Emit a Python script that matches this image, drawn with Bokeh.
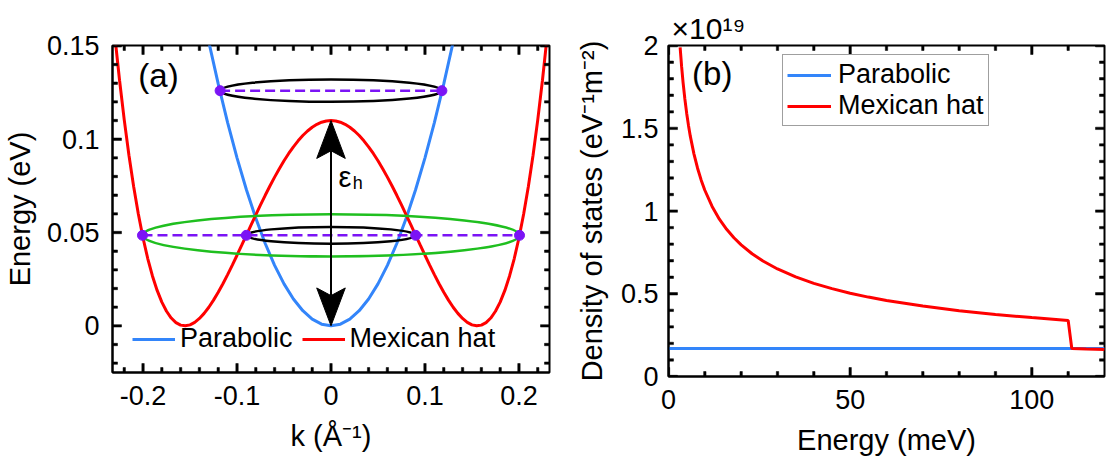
from bokeh.plotting import figure
from bokeh.models import (Range1d, LinearAxis, FixedTicker, CustomJSTickFormatter,
                          Legend, LegendItem, Label)
from bokeh.layouts import row
from bokeh.embed import file_html
from bokeh.resources import INLINE

FONT = "Liberation Sans"
BLUE = "#3385fa"
RED = "#ff0000"
GREEN = "#1fbf1f"
PURPLE = "#7b14f5"

# ---------------- data: panel (a) ----------------
k_parabolic = [-0.13, -0.12, -0.11, -0.10, -0.09, -0.08, -0.07, -0.06, -0.05, -0.04, -0.03, -0.02, -0.01,
               0.00, 0.01, 0.02, 0.03, 0.04, 0.05, 0.06, 0.07, 0.08, 0.09, 0.10, 0.11, 0.12, 0.13]
E_parabolic = [0.1521, 0.1296, 0.1089, 0.0900, 0.0729, 0.0576, 0.0441, 0.0324, 0.0225, 0.0144, 0.0081, 0.0036, 0.0009,
               0.0000, 0.0009, 0.0036, 0.0081, 0.0144, 0.0225, 0.0324, 0.0441, 0.0576, 0.0729, 0.0900, 0.1089, 0.1296, 0.1521]

k_mexican = [-0.235, -0.230, -0.225, -0.220, -0.215, -0.210, -0.205, -0.200, -0.195, -0.190,
             -0.185, -0.180, -0.175, -0.170, -0.165, -0.160, -0.155, -0.150, -0.145, -0.140,
             -0.135, -0.130, -0.125, -0.120, -0.115, -0.110, -0.105, -0.100, -0.095, -0.090,
             -0.085, -0.080, -0.075, -0.070, -0.065, -0.060, -0.055, -0.050, -0.045, -0.040,
             -0.035, -0.030, -0.025, -0.020, -0.015, -0.010, -0.005, 0.000, 0.005, 0.010,
             0.015, 0.020, 0.025, 0.030, 0.035, 0.040, 0.045, 0.050, 0.055, 0.060,
             0.065, 0.070, 0.075, 0.080, 0.085, 0.090, 0.095, 0.100, 0.105, 0.110,
             0.115, 0.120, 0.125, 0.130, 0.135, 0.140, 0.145, 0.150, 0.155, 0.160,
             0.165, 0.170, 0.175, 0.180, 0.185, 0.190, 0.195, 0.200, 0.205, 0.210,
             0.215, 0.220, 0.225, 0.230, 0.235]
E_mexican = [0.18132, 0.15518, 0.13157, 0.11036, 0.09143, 0.07465, 0.05991, 0.04708, 0.03606, 0.02673,
             0.01898, 0.01271, 0.00781, 0.00419, 0.00174, 0.00038, 0.00000, 0.00053, 0.00187, 0.00395,
             0.00667, 0.00997, 0.01377, 0.01800, 0.02258, 0.02746, 0.03256, 0.03783, 0.04321, 0.04865,
             0.05409, 0.05948, 0.06478, 0.06994, 0.07492, 0.07968, 0.08420, 0.08843, 0.09235, 0.09592,
             0.09914, 0.10196, 0.10439, 0.10639, 0.10796, 0.10909, 0.10977, 0.11000, 0.10977, 0.10909,
             0.10796, 0.10639, 0.10439, 0.10196, 0.09914, 0.09592, 0.09235, 0.08843, 0.08420, 0.07968,
             0.07492, 0.06994, 0.06478, 0.05948, 0.05409, 0.04865, 0.04321, 0.03783, 0.03256, 0.02746,
             0.02258, 0.01800, 0.01377, 0.00997, 0.00667, 0.00395, 0.00187, 0.00053, 0.00000, 0.00038,
             0.00174, 0.00419, 0.00781, 0.01271, 0.01898, 0.02673, 0.03606, 0.04708, 0.05991, 0.07465,
             0.09143, 0.11036, 0.13157, 0.15518, 0.18132]

eps_h = 0.11                 # hat height (eV)
E_ring_top = 0.126           # energy of upper constant-energy ring
k_ring_top = 0.118           # parabolic k at that energy
E_ring_low = 0.0485          # energy of lower rings
k_ring_outer = 0.2006        # outer Mexican-hat k
k_ring_inner = 0.0901        # inner Mexican-hat k
ring_half_heights = [0.006, 0.0113, 0.0045]   # top black, green, inner black

# ticks, panel (a)
xlim_a = (-0.2325, 0.2325)
ylim_a = (-0.025, 0.15)
x_major_a = [-0.2, -0.1, 0, 0.1, 0.2]
x_minor_a = [-0.22, -0.18, -0.16, -0.14, -0.12, -0.08, -0.06, -0.04, -0.02,
             0.02, 0.04, 0.06, 0.08, 0.12, 0.14, 0.16, 0.18, 0.22]
y_major_a = [0, 0.05, 0.1, 0.15]
y_minor_a = [-0.02, -0.01, 0.01, 0.02, 0.03, 0.04, 0.06, 0.07, 0.08, 0.09, 0.11, 0.12, 0.13, 0.14]

# ---------------- data: panel (b) ----------------
E_dos_mexican = [3.2, 3.6, 4, 4.5, 5, 5.5, 6, 7, 8, 9, 10, 12, 14, 16, 18, 20, 23, 26, 30, 35,
                 40, 45, 50, 55, 60, 70, 80, 90, 100, 110, 111, 115, 120]
dos_mexican = [1.990, 1.876, 1.780, 1.678, 1.592, 1.518, 1.453, 1.346, 1.259, 1.187, 1.126, 1.028,
               0.951, 0.890, 0.839, 0.796, 0.742, 0.698, 0.650, 0.602, 0.563, 0.531, 0.503, 0.480,
               0.460, 0.426, 0.398, 0.375, 0.356, 0.339, 0.169, 0.166, 0.1625]
E_dos_parabolic = [0, 120]
dos_parabolic = [0.17, 0.17]

xlim_b = (0, 120)
ylim_b = (0, 2)
x_major_b = [0, 50, 100]
x_minor_b = [10, 20, 30, 40, 60, 70, 80, 90, 110]
y_major_b = [0, 0.5, 1, 1.5, 2]
y_minor_b = [0.1, 0.2, 0.3, 0.4, 0.6, 0.7, 0.8, 0.9, 1.1, 1.2, 1.3, 1.4, 1.6, 1.7, 1.8, 1.9]

series_labels = ["Parabolic", "Mexican hat"]

FMT = CustomJSTickFormatter(code="""
if (Math.abs(tick) < 1e-9) { return '0'; }
return tick.toFixed(3).replace(/\\.?0+$/, '');
""")

MAJ_LEN = 9
MIN_LEN = 5
TICK_HALF_W = 1.2


def add_axes(p, xmaj, ymaj, xlabel, ylabel, label_standoff_y, label_standoff_x,
             tick_standoff_y, tick_standoff_x):
    bx = LinearAxis(ticker=FixedTicker(ticks=xmaj), formatter=FMT, axis_label=xlabel)
    bx.major_label_standoff = tick_standoff_x
    bx.axis_label_standoff = label_standoff_x
    ly = LinearAxis(ticker=FixedTicker(ticks=ymaj), formatter=FMT, axis_label=ylabel)
    ly.major_label_standoff = tick_standoff_y
    ly.axis_label_standoff = label_standoff_y
    for ax in (bx, ly):
        ax.axis_line_width = 2
        ax.axis_line_color = "black"
        ax.major_tick_in = 0
        ax.major_tick_out = 0
        ax.minor_tick_in = 0
        ax.minor_tick_out = 0
        ax.major_label_text_font = FONT
        ax.major_label_text_font_size = "27px"
        ax.major_label_text_color = "black"
        ax.axis_label_text_font = FONT
        ax.axis_label_text_font_style = "normal"
        ax.axis_label_text_font_size = "29px"
        ax.axis_label_text_color = "black"
    p.add_layout(bx, "below")
    p.add_layout(ly, "left")


def add_inner_ticks(p, xmaj, xmin_, ymaj, ymin_, xr, yr, fw, fh):
    # tick marks pointing into the frame on all four sides, as thin filled bars
    ex = (xr[1] - xr[0]) / fw   # one pixel in data units
    ey = (yr[1] - yr[0]) / fh
    xs, ys = [], []
    for ticks, ln in ((xmaj, MAJ_LEN), (xmin_, MIN_LEN)):
        for t in ticks:
            a, b = t - TICK_HALF_W * ex, t + TICK_HALF_W * ex
            xs.append([a, b, b, a])
            ys.append([yr[0], yr[0], yr[0] + ln * ey, yr[0] + ln * ey])
            xs.append([a, b, b, a])
            ys.append([yr[1], yr[1], yr[1] - ln * ey, yr[1] - ln * ey])
    for ticks, ln in ((ymaj, MAJ_LEN), (ymin_, MIN_LEN)):
        for t in ticks:
            a, b = t - TICK_HALF_W * ey, t + TICK_HALF_W * ey
            xs.append([xr[0], xr[0] + ln * ex, xr[0] + ln * ex, xr[0]])
            ys.append([a, a, b, b])
            xs.append([xr[1], xr[1] - ln * ex, xr[1] - ln * ex, xr[1]])
            ys.append([a, a, b, b])
    p.patches(xs=xs, ys=ys, fill_color="black", line_color="black", line_width=0.5)


# ================= panel (a) =================
FW1, FH1 = 437, 327
xr_a = (xlim_a[0], xlim_a[1])
yr_a = (ylim_a[0], ylim_a[1] + 0.0002)
p1 = figure(frame_width=FW1, frame_height=FH1, x_range=Range1d(*xr_a), y_range=Range1d(*yr_a),
            output_backend="svg", toolbar_location=None, x_axis_type=None, y_axis_type=None,
            min_border_left=111, min_border_right=12, min_border_top=45, min_border_bottom=94)
p1.outline_line_color = "black"
p1.outline_line_width = 2
p1.background_fill_color = "white"
p1.border_fill_color = "white"
p1.title.visible = False
add_axes(p1, x_major_a, y_major_a, "k (Å⁻¹)", "Energy (eV)", 8, 12, 13, 13)

r_para = p1.line(k_parabolic, E_parabolic, line_color=BLUE, line_width=3)
r_mex = p1.line(k_mexican, E_mexican, line_color=RED, line_width=3)

p1.ellipse(x=[0, 0, 0], y=[E_ring_top, E_ring_low, E_ring_low],
           width=[2 * k_ring_top, 2 * k_ring_outer, 2 * k_ring_inner],
           height=[2 * h for h in ring_half_heights],
           fill_color=None, line_color=["black", GREEN, "black"], line_width=2.5)

p1.line([-k_ring_top, k_ring_top], [E_ring_top, E_ring_top], line_color=PURPLE, line_width=2.5, line_dash="10 5")
p1.line([-k_ring_outer, k_ring_outer], [E_ring_low, E_ring_low], line_color=PURPLE, line_width=2.5, line_dash="10 5")
p1.scatter([-k_ring_top, k_ring_top], [E_ring_top, E_ring_top], size=10, color=PURPLE)
p1.scatter([-k_ring_outer, -k_ring_inner, k_ring_inner, k_ring_outer], [E_ring_low] * 4, size=10, color=PURPLE)

# double-headed arrow showing eps_h
head_half_w = 0.0152
head_len = 0.0203
head_notch = 0.0162
p1.line([0, 0], [head_notch, eps_h - head_notch], line_color="black", line_width=2)
p1.patches(xs=[[0, head_half_w, 0, -head_half_w], [0, head_half_w, 0, -head_half_w]],
           ys=[[eps_h, eps_h - head_len, eps_h - head_notch, eps_h - head_len],
               [0, head_len, head_notch, head_len]],
           fill_color="black", line_color="black", line_width=1)

add_inner_ticks(p1, x_major_a, x_minor_a, y_major_a, y_minor_a, xr_a, yr_a, FW1, FH1)

p1.add_layout(Label(x=0.008, y=0.0795, text="ε", text_font=FONT, text_font_size="29px",
                    text_baseline="middle", text_align="left", text_color="black"))
p1.add_layout(Label(x=0.0232, y=0.0765, text="h", text_font=FONT, text_font_size="18px",
                    text_baseline="middle", text_align="left", text_color="black"))
p1.add_layout(Label(x=-0.205, y=0.134, text="(a)", text_font=FONT, text_font_size="33px",
                    text_baseline="middle", text_align="left", text_color="black"))

leg1 = Legend(items=[LegendItem(label=series_labels[0], renderers=[r_para]),
                     LegendItem(label=series_labels[1], renderers=[r_mex])],
              location=(20, 18), orientation="horizontal", padding=0, margin=0, spacing=9,
              label_standoff=5, glyph_width=43, glyph_height=20,
              background_fill_alpha=0, border_line_color=None,
              label_text_font=FONT, label_text_font_size="27px", label_text_color="black")
p1.add_layout(leg1)

# ================= panel (b) =================
FW2, FH2 = 436, 331
xr_b = (xlim_b[0], xlim_b[1])
yr_b = (ylim_b[0], ylim_b[1] + 0.001)
p2 = figure(frame_width=FW2, frame_height=FH2, x_range=Range1d(*xr_b), y_range=Range1d(*yr_b),
            output_backend="svg", toolbar_location=None, x_axis_type=None, y_axis_type=None,
            min_border_left=107, min_border_right=4, min_border_top=45, min_border_bottom=90)
p2.outline_line_color = "black"
p2.outline_line_width = 2
p2.background_fill_color = "white"
p2.border_fill_color = "white"
add_axes(p2, x_major_b, y_major_b, "Energy (meV)", "Density of states (eV⁻¹m⁻²)", 10, 12, 10, 13)

# scale factor above the box
p2.title.text = "×10¹⁹"
p2.title.text_font = FONT
p2.title.text_font_size = "30px"
p2.title.text_font_style = "normal"
p2.title.text_color = "black"
p2.title.align = "left"
p2.title.offset = 3
p2.title.standoff = 1

r_dp = p2.line(E_dos_parabolic, dos_parabolic, line_color=BLUE, line_width=3)
r_dm = p2.line(E_dos_mexican, dos_mexican, line_color=RED, line_width=3)

add_inner_ticks(p2, x_major_b, x_minor_b, y_major_b, y_minor_b, xr_b, yr_b, FW2, FH2)

p2.add_layout(Label(x=6.5, y=1.83, text="(b)", text_font=FONT, text_font_size="33px",
                    text_baseline="middle", text_align="left", text_color="black"))

leg2 = Legend(items=[LegendItem(label=series_labels[0], renderers=[r_dp]),
                     LegendItem(label=series_labels[1], renderers=[r_dm])],
              location=(114, 250), orientation="vertical", padding=4, margin=0, spacing=0,
              label_standoff=7, glyph_width=44, glyph_height=20,
              background_fill_color="white", background_fill_alpha=1,
              border_line_color="#404040", border_line_width=1.5,
              label_text_font=FONT, label_text_font_size="27px", label_text_color="black")
p2.add_layout(leg2)

layout = row(p1, p2)
open("out.html", "w").write(file_html(layout, INLINE))
